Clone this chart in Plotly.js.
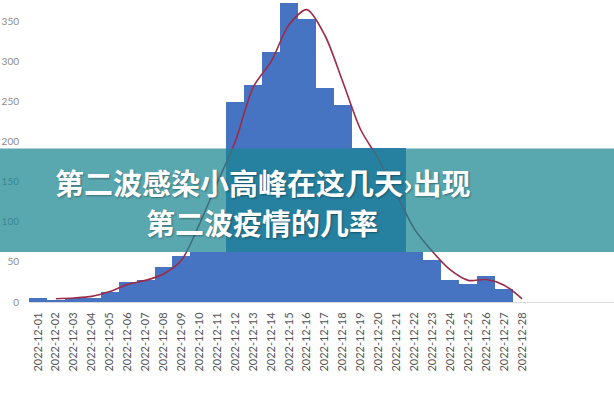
<!DOCTYPE html>
<html>
<head>
<meta charset="utf-8">
<script src="https://cdn.plot.ly/plotly-3.0.1.min.js"></script>
<style>html,body{margin:0;padding:0;background:#fff;}#chart{width:614px;height:400px;}</style>
</head>
<body>
<div id="chart"></div>
<script>
const dates = ["2022-12-01","2022-12-02","2022-12-03","2022-12-04","2022-12-05","2022-12-06","2022-12-07",
  "2022-12-08","2022-12-09","2022-12-10","2022-12-11","2022-12-12","2022-12-13","2022-12-14",
  "2022-12-15","2022-12-16","2022-12-17","2022-12-18","2022-12-19","2022-12-20","2022-12-21",
  "2022-12-22","2022-12-23","2022-12-24","2022-12-25","2022-12-26","2022-12-27","2022-12-28"];
const barValues = [5,2,5,5,12,25,28,44,58,62,62,250,271,312,373,353,267,246,192,192,192,62,52,27,23,33,16,0];
const lineValues = [null,4,5,7,13,22,27,35,52,97,149,200,268,300,346,365,333,275,215,178,134,91,63,40,27,28,21,4];
const yTicks = [0,50,100,150,200,250,300,350];
const overlayLines = ["第二波感染小高峰在这几天›出现", "第二波疫情的几率"];

const W = 614, H = 400, L = 29, B = 98.3;
const plotW = W - L, plotH = H - B;
const barPx = 17.93;
const bandTop = 148.3, bandBot = 251.7;
const textCenters = [181.7, 221.7];

const traces = [
  {type:"bar", x:dates, y:barValues, marker:{color:"#4674c2", line:{width:0}}, hoverinfo:"skip"},
  {type:"scatter", mode:"lines", x:dates, y:lineValues, connectgaps:false,
   line:{color:"#9c2b4a", width:1.6, shape:"spline", smoothing:0.8}, hoverinfo:"skip"}
];

const layout = {
  width: W, height: H,
  margin: {l:L, r:0, t:0, b:B, pad:0},
  paper_bgcolor:"#ffffff", plot_bgcolor:"#ffffff",
  showlegend:false, bargap:0,
  xaxis: {
    type:"category", range:[-0.5, -0.5 + plotW/barPx],
    tickvals: dates, ticktext: dates, tickangle:-90,
    showgrid:false, zeroline:false, showline:true, linecolor:"#d9d9d9", linewidth:1,
    ticks:"", ticklabelstandoff:5,
    tickfont:{family:"Lato, 'Liberation Sans', sans-serif", size:11, color:"#555555"}
  },
  yaxis: {
    range:[0, 377], tickvals:yTicks, ticktext:yTicks.map(String),
    showgrid:false, zeroline:false, showline:false, ticks:"", ticklabelstandoff:9,
    tickfont:{family:"Lato, 'Liberation Sans', sans-serif", size:10, color:"#8a8a8a"}
  },
  shapes: [{
    type:"rect", xref:"paper", yref:"paper", layer:"above",
    x0: -L/plotW - 0.01, x1: 1.01,
    y0: (plotH - bandBot)/plotH, y1: (plotH - bandTop)/plotH,
    fillcolor:"rgba(25,134,145,0.72)", line:{width:0}
  }],
  annotations: overlayLines.map((t, i) => ({
    xref:"paper", yref:"paper", x:(262 - L)/plotW, y:(plotH - textCenters[i])/plotH,
    xanchor:"center", yanchor:"middle", showarrow:false, align:"center",
    text: t,
    font:{family:"'Noto Sans CJK SC', sans-serif", size:29, color:"#ffffff", weight:700,
          shadow:"1px 1px 2px rgba(0,0,0,0.35)"}
  }))
};

Plotly.newPlot("chart", traces, layout, {staticPlot:true, displayModeBar:false});
</script>
</body>
</html>
